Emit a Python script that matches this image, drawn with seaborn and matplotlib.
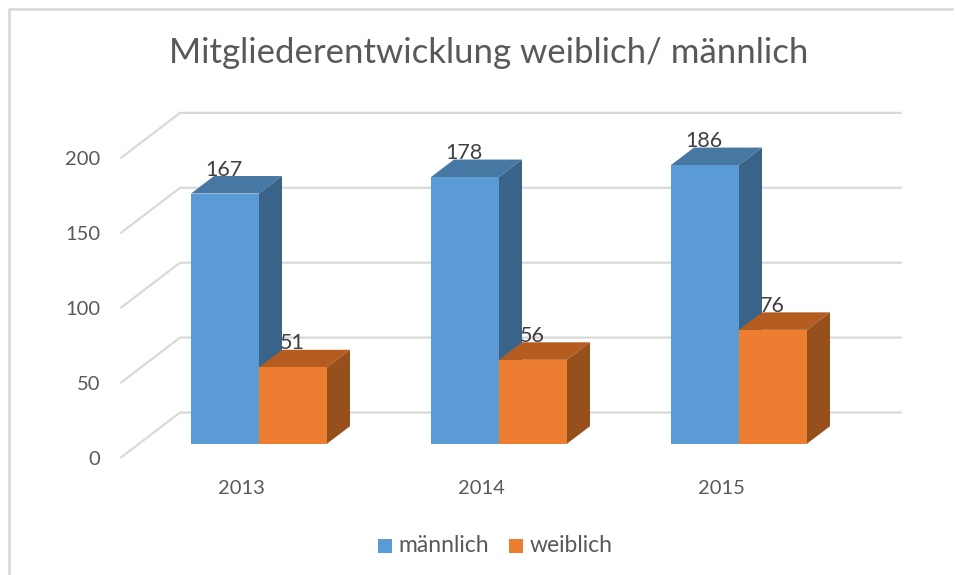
import matplotlib
matplotlib.use("Agg")
import matplotlib.pyplot as plt
import pandas as pd
import seaborn as sns
from matplotlib.patches import Polygon, Rectangle

years = ["2013", "2014", "2015"]
maennlich = [167, 178, 186]
weiblich = [51, 56, 76]
y_ticks = [0, 50, 100, 150, 200]

# colours: front, top, side
colors = {
    "männlich": ("#5b9bd5", "#4777a3", "#3a6389"),
    "weiblich": ("#ed7d31", "#b55d20", "#95501b"),
}

df = pd.DataFrame({"jahr": years * 2,
                   "mitglieder": maennlich + weiblich,
                   "geschlecht": ["männlich"] * 3 + ["weiblich"] * 3})

W, H = 956, 575
PX_Y = 1.498      # pixels per member
PX_X = 240        # pixels per category
X0, Y0 = 259, 443.7  # pixel of first category / zero line


def px(x, y):
    # picture pixels to data coordinates
    return (x - X0) / PX_X, (Y0 - y) / PX_Y


sns.set_theme(style="white", font="Lato")
plt.rcParams["font.family"] = ["Lato", "DejaVu Sans"]

fig = plt.figure(figsize=(W / 100, H / 100), dpi=100)
ax = fig.add_axes([0, 0, 1, 1])

sns.barplot(data=df, x="jahr", y="mitglieder", hue="geschlecht", order=years,
            palette={k: v[0] for k, v in colors.items()}, width=136 / PX_X, gap=0,
            saturation=1, legend=False, linewidth=0, zorder=5, ax=ax)

ax.set_xlim(px(0, 0)[0], px(W, 0)[0])
ax.set_ylim(px(0, H)[1], px(0, 0)[1])
ax.axis("off")

# frame of the pasted chart
fig.add_artist(plt.Line2D([9 / W, 9 / W, 952 / W], [0, 1 - 9 / H, 1 - 9 / H],
                          color="#d9d9d9", lw=2))

# floor / wall grid
grid_c = "#d9d9d9"
dy_depth = 45
for v in y_ticks:
    y_back = 412.5 - v * PX_Y
    y_front = y_back + dy_depth
    pts = [px(121, y_front), px(180, y_back), px(901, y_back)]
    ax.plot([p[0] for p in pts], [p[1] for p in pts], color=grid_c, lw=1.6, zorder=1)
    ax.text(*px(100, y_front + 2), str(v), ha="right", va="center",
            fontsize=14.5, color="#595959")

# depth of the bars
DX, DY = 23 / PX_X, 17.5 / PX_Y
hues = list(colors)
values = maennlich + weiblich
bars = [p for p in ax.patches if isinstance(p, Rectangle)]
for i, (bar, val) in enumerate(zip(bars, values)):
    hue = hues[i // 3]
    x0, x1 = bar.get_x(), bar.get_x() + bar.get_width()
    top = bar.get_height()
    ax.add_patch(Polygon([(x0, top), (x1, top), (x1 + DX, top + DY), (x0 + DX, top + DY)],
                         facecolor=colors[hue][1], edgecolor="none", zorder=4))
    ax.add_patch(Polygon([(x1, 0), (x1, top), (x1 + DX, top + DY), (x1 + DX, DY)],
                         facecolor=colors[hue][2], edgecolor="none", zorder=4))
    ax.text((x0 + x1) / 2 - 0.004, top + DY + 0.3, str(val), ha="center", va="baseline",
            fontsize=15.5, color="#404040", zorder=6)

for i, year in enumerate(years):
    ax.text(*px(X0 - 17.5 + i * PX_X, 488), year, ha="center", va="center",
            fontsize=14.5, color="#595959")

ax.text(*px(489, 53), "Mitgliederentwicklung weiblich/ männlich", ha="center", va="center",
        fontsize=25, color="#595959")

# legend
for hue, x_box, x_txt in zip(hues, [378, 509], [398, 530]):
    ax.add_patch(Rectangle(px(x_box, 553), 14 / PX_X, 14 / PX_Y,
                           facecolor=colors[hue][0], edgecolor="none"))
    ax.text(*px(x_txt, 546), hue, ha="left", va="center", fontsize=16.5, color="#595959")

fig.savefig("out.png", dpi=100, facecolor="white")
